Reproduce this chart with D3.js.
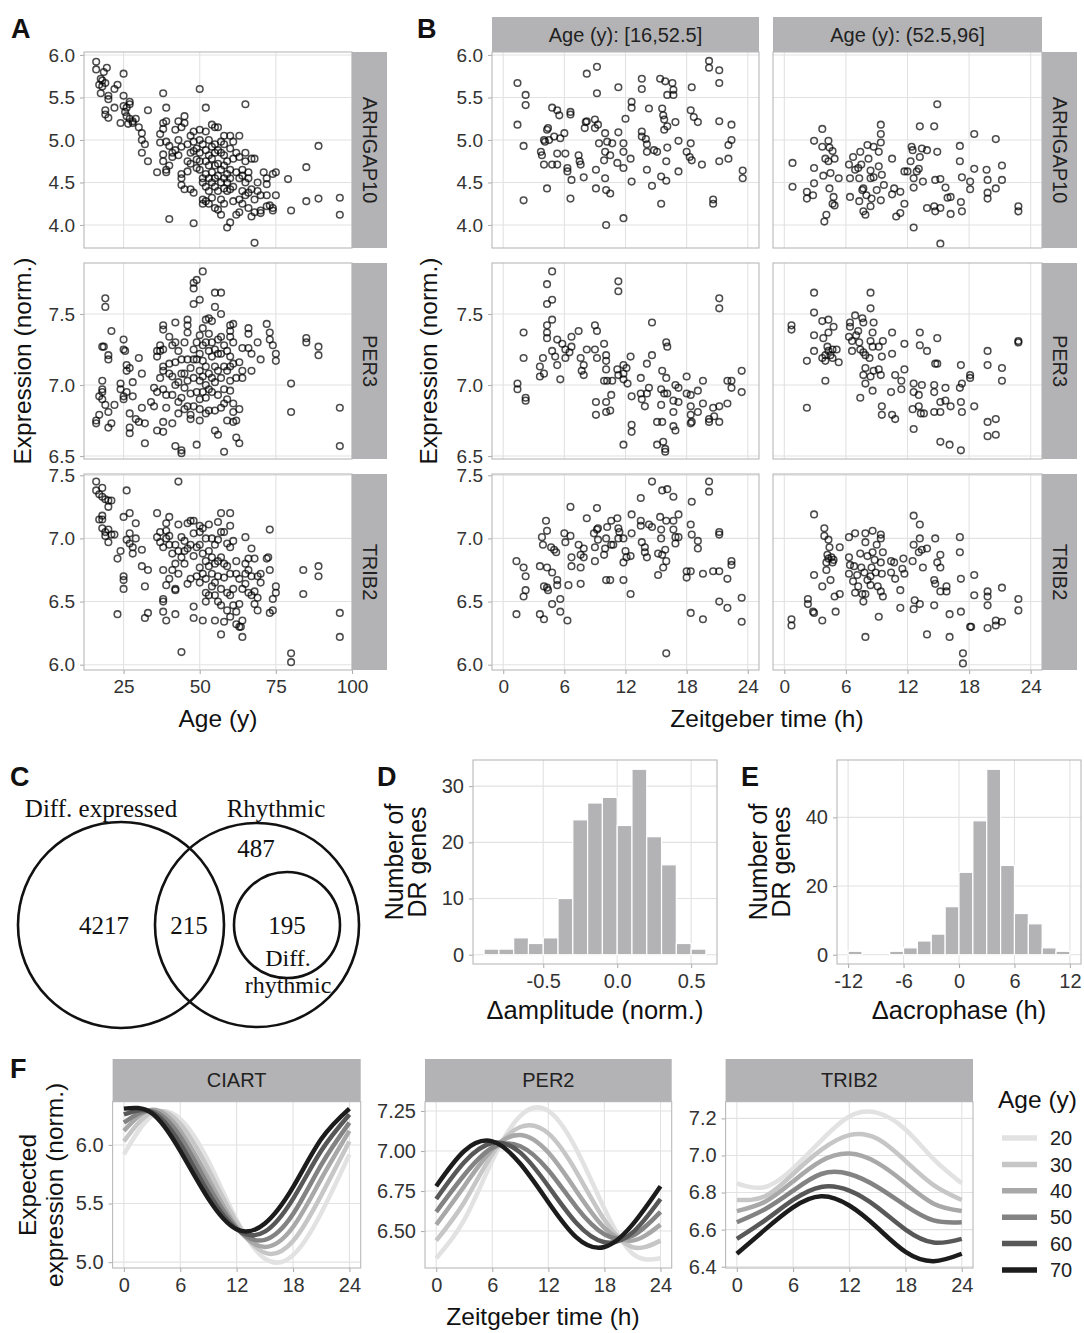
<!DOCTYPE html>
<html>
<head>
<meta charset="utf-8">
<script src="https://cdn.jsdelivr.net/npm/d3@7"></script>
<style>
  body { margin: 0; background: #fff; }
</style>
</head>
<body>
<svg id="fig" width="1084" height="1333"></svg>
<script>
// ---------- data ----------
const genesAB = ["ARHGAP10", "PER3", "TRIB2"];
const ageGroups = ["Age (y): [16,52.5]", "Age (y): (52.5,96]"];
const ageTicks = [25, 50, 75, 100];
const ztTicks = [0, 6, 12, 18, 24];
const exprTicks = [[4.0, 4.5, 5.0, 5.5, 6.0], [6.5, 7.0, 7.5], [6.0, 6.5, 7.0, 7.5]];

// panel A: [age, expression]
const ageArhgap10 = [[16,5.92],[16,5.83],[17.5,5.72],[18,5.70],[17,5.65],[18,5.63],[17.5,5.55],[19,5.67],[19.5,5.85],[18.5,5.80],[20,5.52],[20,5.48],[22,5.60],[23,5.65],[25,5.78],[25,5.52],[19,5.35],[19,5.30],[20,5.26],[22,5.38],[24,5.20],[25,5.40],[25.5,5.33],[26,5.38],[27,5.45],[27,5.42],[26,5.28],[27,5.25],[28,5.22],[28,5.20],[26.5,5.19],[29,5.25],[30,5.15],[31,5.08],[31,5.00],[32,4.95],[31,4.85],[33,5.35],[33,4.75],
[36,4.62],[37,4.97],[37,5.07],[38,5.13],[38,5.55],[38,5.20],[39,5.22],[39,5.38],[39,4.98],[38,4.83],[38,4.75],[39,4.65],[39,4.62],[40,4.93],[40,4.70],[41,4.80],[41,4.85],[42,5.12],[42,4.88],[43,5.0],[43,4.82],[40,4.07],[43,5.22],[44,5.15],[45,5.28],[45,5.20],[44,4.92],[44,4.60],[44,4.55],[44,4.47],[45,4.42],[46,4.75],[46,4.63],[46,4.95],[47,5.05],[47,4.85],[47,4.72],[47,4.42],[48,4.38],[48,4.02],[48,5.1],[48,4.98],[48,4.87],[49,4.77],[49,4.67],[49,4.9],
[50,5.60],[50,5.12],[50,5.0],[50,4.85],[50,4.75],[50,4.65],[51,4.55],[51,4.5],[51,4.3],[51,4.25],[51,4.95],[52,5.1],[52,4.88],[52,4.75],[52,4.6],[52,4.45],[52,4.28],[52,5.38],[53,5.0],[53,4.82],[53,4.7],[53,4.55],[53,4.4],[53,4.25],[54,5.18],[54,4.92],[54,4.78],[54,4.62],[54,4.5],[54,4.32],[55,5.15],[55,4.95],[55,4.85],[55,4.7],[55,4.55],[55,4.45],[55,4.2],[56,5.15],[56,4.88],[56,4.72],[56,4.58],[56,4.4],[56,4.18],[57,4.98],[57,4.85],[57,4.65],[57,4.5],[57,4.3],[57,4.12],[58,5.05],[58,4.95],[58,4.82],[58,4.7],[58,4.55],[58,4.43],[58,4.25],[59,4.75],[59,4.6],[59,4.5],[59,4.4],[59,3.97],[60,5.05],[60,4.9],[60,4.65],[60,4.55],[60,4.42],[60,4.03],[61,4.98],[61,4.78],[61,4.45],[61,4.28],[62,4.85],[62,4.62],[62,4.12],[63,5.05],[63,4.8],[63,4.55],[63,4.3],[63,4.15],[64,4.65],[64,4.58],[64,4.4],[64,4.25],[65,5.42],[65,4.85],[65,4.75],[65,4.5],[65,4.35],
[68,3.79],[66,4.62],[66,4.55],[66,4.38],[66,4.2],[67,4.78],[67,4.42],[67,4.1],[68,4.78],[68,4.3],[68,4.15],[69,4.5],[69,4.4],[70,4.35],[70,4.14],[70,4.17],[71,4.62],[72,4.55],[72,4.48],[72,4.35],[72,4.22],[73,4.23],[74,4.2],[74,4.17],[74,4.6],[75,4.62],[75,4.35],[79,4.54],[80,4.17],[85,4.68],[85,4.28],[89,4.93],[89,4.31],[96,4.32],[96,4.12]];

const agePer3 = [[16,6.75],[16,6.73],[17,6.79],[17,6.92],[18,6.9],[18,6.95],[18,6.97],[18,7.03],[18,7.27],[18.5,7.27],[19,7.61],[19,7.55],[19,6.86],[20,6.81],[20,6.7],[20,7.18],[20,7.21],[21,7.38],[21,6.73],[22,6.86],[24,7.01],[24,6.97],[25,6.92],[25,6.9],[25,7.32],[25,7.25],[25.5,7.24],[26,7.14],[26,6.95],[26,7.1],[27,6.8],[27,6.7],[27,6.66],[27,7.12],[28,7.02],[28,6.92],[29,6.76],[30,6.74],[30,7.19],[31,7.08],[31,6.84],[32,6.73],[32,6.59],[34,6.88],[35,6.98],[35,6.85],[36,7.24],[36,7.2],[36,6.95],[36,6.68],[37,7.28],[37,7.24],[37,7.05],[38,7.42],[38,7.39],[38,7.25],[38,7.13],[38,7.1],[38,6.97],[38,6.74],[38,6.67],[39,6.93],[39,6.84],[40,7.34],[40,7.15],[40,7.08],[41,7.28],[41,7.06],[41,6.93],[41,6.73],[42,7.44],[42,7.3],[42,7.16],[42,7.0],[42,6.57],[43,7.24],[43,7.02],[43,6.88],[43,6.8],[44,7.18],[44,7.08],[44,6.91],[44,6.54],[44,6.52],[45,7.3],[45,7.08],[45,6.98],[45,6.83],[46,7.46],[46,7.42],[46,7.37],[46,7.18],[46,7.03],[46,6.85],[47,7.12],[47,6.94],[47,6.79],[47,6.76],[48,7.72],[48,7.68],[48,7.57],[48,7.25],[48,7.18],[48,7.05],[48,6.85],[49,7.74],[49,7.3],[49,7.18],[49,6.95],[49,6.58],[50,7.6],[50,7.35],[50,7.22],[50,7.1],[50,7.03],[50,6.9],[50,6.83],[50,6.75],[51,7.8],[51,7.4],[51,7.28],[51,7.17],[51,7.06],[51,6.95],[52,7.46],[52,7.3],[52,7.13],[52,7.0],[52,6.91],[52,6.8],[53,7.47],[53,7.36],[53,7.24],[53,7.08],[53,6.97],[53,6.82],[54,7.45],[54,7.3],[54,7.2],[54,7.05],[54,6.95],[55,7.55],[55,7.65],[55,7.25],[55,7.13],[55,7.02],[55,6.82],[55,6.68],[56,7.32],[56,7.22],[56,7.1],[56,6.93],[56,6.65],[57,7.65],[57,7.5],[57,7.34],[57,7.22],[57,7.05],[57,6.84],[58,7.28],[58,7.13],[58,6.97],[58,6.87],[58,6.53],[59,7.24],[59,7.1],[59,6.9],[59,6.75],[60,7.42],[60,7.38],[60,7.34],[60,7.2],[60,7.13],[60,7.03],[60,6.96],[61,7.43],[61,7.3],[61,7.15],[61,6.87],[61,6.81],[61,6.74],[62,7.05],[62,6.75],[62,6.63],[63,7.16],[63,6.83],[63,6.59],[64,7.26],[64,7.1],[64,7.05],[66,7.4],[66,7.36],[66,7.26],[67,7.22],[67,7.1],[72,7.43],[73,7.37],[73,7.32],[74,7.28],[75,7.22],[75,7.17],[69,7.3],[70,7.18],[80,7.01],[80,6.81],[85,7.33],[85,7.3],[89,7.27],[89,7.21],[96,6.84],[96,6.57]];

const ageTrib2 = [[16,7.45],[16,7.38],[17,7.35],[18,7.4],[18,7.33],[19,7.31],[20,7.3],[20,7.25],[21,7.3],[17,7.15],[18,7.18],[18,7.15],[18,7.08],[19,7.05],[19,7.02],[20,7.07],[20,6.97],[21,7.03],[22,7.03],[23,6.84],[23,6.4],[24,6.9],[25,7.17],[25,6.7],[25,6.67],[25,6.6],[26,7.38],[26,6.99],[27,7.2],[27,7.04],[27,6.96],[28,6.93],[28,6.88],[29,7.12],[29,7.0],[31,6.91],[31,6.78],[32,6.62],[32,6.37],[33,6.75],[33,6.41],[36,7.2],[36,7.01],[37,7.05],[37,6.97],[38,6.93],[38,6.75],[38,6.52],[38,6.5],[38,6.42],[39,7.12],[39,7.06],[39,7.0],[39,6.63],[39,6.35],[40,7.17],[40,7.02],[40,6.95],[40,6.68],[41,6.88],[41,6.75],[42,6.95],[42,6.8],[42,6.6],[42,6.59],[42,6.4],[43,7.45],[43,7.11],[43,6.9],[43,6.72],[44,7.01],[44,6.85],[44,6.1],[45,6.98],[45,6.9],[45,6.8],[46,7.12],[46,6.92],[46,6.64],[47,7.14],[47,6.95],[47,6.68],[48,7.14],[48,7.04],[48,6.86],[48,6.46],[48,6.37],[49,6.93],[49,6.7],[50,7.1],[50,7.05],[50,6.95],[50,6.77],[50,6.65],[51,7.08],[51,6.88],[51,6.72],[51,6.35],[52,7.0],[52,6.82],[52,6.68],[52,6.57],[52,6.5],[53,7.11],[53,6.9],[53,6.78],[53,6.55],[54,7.0],[54,6.85],[54,6.72],[54,6.62],[55,6.95],[55,6.8],[55,6.65],[55,6.55],[55,6.35],[56,7.13],[56,6.99],[56,6.82],[56,6.7],[56,6.5],[57,7.2],[57,7.05],[57,6.85],[57,6.6],[57,6.47],[57,6.24],[58,7.05],[58,6.8],[58,6.69],[58,6.34],[59,6.96],[59,6.78],[59,6.57],[59,6.43],[60,7.2],[60,7.1],[60,6.93],[60,6.72],[60,6.55],[60,6.38],[61,6.98],[61,6.6],[61,6.47],[62,6.82],[62,6.72],[62,6.42],[62,6.32],[63,6.68],[63,6.48],[63,6.3],[63.5,6.3],[64,6.6],[64,6.35],[64,6.22],[65,7.01],[65,6.8],[65,6.72],[65,6.64],[66,6.84],[66,6.75],[66,6.57],[67,6.92],[67,6.7],[67,6.55],[68,6.84],[68,6.58],[68,6.48],[69,6.7],[69,6.53],[69,6.43],[70,6.72],[70,6.65],[72,6.84],[72.5,6.85],[73,7.07],[73,6.75],[73,6.41],[74,6.52],[74,6.43],[75,6.62],[75,6.57],[80,6.09],[80,6.02],[84,6.75],[84,6.56],[89,6.78],[89,6.7],[96,6.41],[96,6.22]];

// panel B: [Zeitgeber time, expression]
const ztArhgap10Young = [[1.4,5.67],[2.2,5.53],[2.2,5.41],[1.4,5.18],[2.0,4.93],[2.0,4.29],[4.3,4.43],[3.7,4.86],[3.8,4.82],[4.0,4.71],[4.0,5.0],[4.3,5.12],[4.4,5.14],[4.1,4.98],[4.5,5.0],[4.8,5.38],[5.3,5.35],[5.5,5.29],[5.0,5.04],[5.6,5.02],[6.0,5.08],[5.3,4.84],[6.1,4.84],[4.8,4.71],[5.3,4.71],[6.3,4.67],[6.3,4.63],[6.6,5.33],[6.6,5.30],[6.7,4.53],[6.6,4.31],[7.4,4.82],[7.5,4.75],[7.6,4.71],[7.9,4.56],[8.1,5.21],[8.2,5.22],[8.0,5.14],[9.0,5.24],[9.3,5.18],[9.0,5.14],[8.2,5.78],[9.2,5.86],[9.2,5.55],[9.1,4.65],[9.1,4.43],[10.0,4.55],[10.1,4.41],[10.5,4.37],[10.1,4.0],[10.0,5.08],[10.2,4.98],[9.4,4.96],[9.9,4.76],[10.0,4.86],[10.5,4.82],[10.7,4.96],[11.3,5.09],[11.3,5.62],[11.2,4.73],[11.8,4.96],[11.8,4.86],[11.8,4.67],[12.0,5.25],[12.5,4.78],[12.6,4.51],[11.8,4.08],[12.6,5.45],[12.6,5.38],[13.6,5.72],[13.6,5.6],[13.6,5.1],[13.6,5.04],[14.0,5.01],[14.1,4.95],[14.1,4.86],[14.3,5.37],[14.1,4.65],[14.8,4.88],[15.1,4.86],[14.6,4.46],[15.4,5.72],[15.9,5.69],[16.6,5.67],[16.7,5.59],[16.7,5.53],[16.1,5.53],[15.6,5.37],[15.7,5.29],[15.8,5.24],[15.8,5.12],[16.1,5.16],[16.9,5.21],[16.1,4.91],[16.0,4.75],[15.5,4.57],[16.0,4.52],[15.5,4.25],[17.2,4.63],[17.2,4.99],[18.5,5.62],[18.4,5.35],[18.7,5.27],[19.1,5.21],[18.4,4.96],[18.0,4.86],[18.3,4.80],[18.5,4.76],[19.5,4.71],[20.6,4.30],[20.6,4.25],[20.2,5.93],[20.2,5.85],[21.2,5.82],[21.2,5.67],[21.2,5.22],[22.4,5.18],[22.4,5.0],[22.1,4.94],[22.1,4.78],[21.2,4.75],[23.5,4.64],[23.5,4.55]];

const ztArhgap10Old = [[0.8,4.73],[0.8,4.45],[2.2,4.39],[2.2,4.31],[2.8,4.35],[2.9,4.67],[2.9,4.49],[3.7,5.13],[2.9,4.99],[3.7,4.92],[4.3,4.99],[4.4,4.91],[4.7,4.87],[4.0,4.78],[4.3,4.75],[4.9,4.78],[3.8,4.58],[4.5,4.61],[4.4,4.43],[4.8,4.33],[4.7,4.25],[4.9,4.23],[5.3,4.55],[4.1,4.12],[3.9,4.04],[6.4,4.33],[6.3,4.71],[6.4,4.55],[6.7,4.8],[6.9,4.65],[7.2,4.67],[7.3,4.55],[7.4,4.86],[7.5,4.71],[7.7,4.43],[7.3,4.28],[7.7,4.16],[7.9,4.12],[7.6,4.41],[8.1,4.94],[8.2,4.78],[8.4,4.64],[8.4,4.55],[8.0,4.35],[8.5,4.31],[8.4,4.22],[8.7,4.92],[8.7,4.56],[9.0,4.41],[9.4,5.18],[9.4,5.07],[9.4,4.97],[9.2,4.86],[9.2,4.69],[9.5,4.59],[9.7,4.47],[9.4,4.29],[10.5,4.78],[10.7,4.43],[10.5,4.36],[11.3,4.39],[10.9,4.1],[11.3,4.14],[11.7,4.25],[11.7,4.63],[12.0,4.63],[12.4,4.92],[12.5,4.88],[12.3,4.75],[12.6,4.55],[12.6,4.44],[12.9,4.63],[13.1,4.66],[13.2,5.16],[13.2,4.8],[13.4,4.9],[13.5,4.51],[13.9,4.88],[12.6,3.97],[14.6,5.16],[14.9,5.42],[14.9,4.86],[14.7,4.53],[15.2,4.54],[13.9,4.2],[14.6,4.22],[14.7,4.16],[15.2,4.2],[15.2,3.78],[15.7,4.44],[15.9,4.32],[16.2,4.33],[16.2,4.13],[17.1,4.93],[17.1,4.75],[17.3,4.56],[17.2,4.27],[17.3,4.16],[18.1,4.51],[18.1,4.42],[18.5,5.07],[18.5,4.66],[19.7,4.65],[19.8,4.53],[19.8,4.38],[19.8,4.31],[20.6,4.43],[20.6,5.01],[21.2,4.7],[21.2,4.53],[22.8,4.22],[22.8,4.16]];

const ztPer3Young = [[1.4,7.01],[1.4,6.97],[2.2,6.91],[2.2,6.89],[2.0,7.37],[2.0,7.19],[3.6,7.13],[3.6,7.06],[3.9,7.19],[4.0,7.08],[4.3,7.42],[4.3,7.37],[4.3,7.33],[4.3,7.57],[4.3,7.71],[4.8,7.8],[4.8,7.6],[4.8,7.46],[4.8,7.24],[5.3,7.32],[5.3,7.14],[5.1,7.2],[5.6,7.04],[5.8,7.29],[6.1,7.25],[6.1,7.19],[6.5,7.23],[6.7,7.34],[6.7,7.27],[7.4,7.38],[7.6,7.19],[7.9,7.14],[7.7,7.1],[7.9,7.07],[8.2,7.25],[9.0,7.42],[9.2,7.38],[9.0,7.25],[9.2,7.19],[9.9,7.29],[10.1,7.21],[10.1,7.17],[10.1,7.11],[9.9,7.03],[10.2,7.03],[10.7,7.03],[10.6,6.93],[10.1,6.88],[10.1,6.81],[10.5,6.82],[9.1,6.88],[9.1,6.79],[11.3,7.73],[11.3,7.66],[11.2,7.11],[11.3,7.07],[11.8,7.14],[11.8,7.08],[11.8,7.04],[12.1,7.12],[12.2,7.01],[12.5,7.2],[12.6,6.92],[12.6,6.72],[12.6,6.67],[11.8,6.58],[14.1,7.15],[14.6,7.21],[14.6,7.44],[13.5,7.05],[13.5,6.94],[13.6,6.9],[13.9,6.85],[14.3,6.98],[14.1,6.94],[15.6,7.1],[16.0,7.3],[16.1,7.27],[16.0,7.05],[15.5,6.97],[15.8,6.94],[15.5,6.86],[16.1,6.94],[15.6,6.74],[15.1,6.74],[15.1,6.58],[15.7,6.6],[15.9,6.55],[15.9,6.53],[16.7,6.81],[16.7,6.71],[16.9,6.68],[16.9,7.0],[17.2,6.98],[17.2,6.88],[16.7,6.89],[18.0,7.06],[18.0,6.94],[18.4,6.93],[18.4,6.85],[18.4,6.79],[18.5,6.74],[18.4,6.73],[19.1,6.96],[19.1,6.81],[19.6,7.03],[19.6,6.87],[20.2,6.74],[20.2,6.76],[20.6,6.84],[20.7,6.78],[21.2,6.74],[21.2,6.85],[21.2,7.61],[21.2,7.54],[22.0,7.03],[22.4,7.03],[22.4,6.98],[22.0,6.87],[23.4,7.1],[23.4,6.95]];

const ztPer3Old = [[0.7,7.42],[0.7,7.39],[2.2,7.17],[2.2,6.84],[2.9,7.65],[2.9,7.51],[2.9,7.35],[2.9,7.24],[3.7,7.45],[4.3,7.46],[3.8,7.33],[4.3,7.37],[4.8,7.41],[3.7,7.19],[4.0,7.21],[4.2,7.27],[4.3,7.24],[4.5,7.21],[4.7,7.25],[4.7,7.19],[5.1,7.25],[5.3,7.16],[4.0,7.17],[4.0,7.03],[6.4,7.44],[6.4,7.41],[6.3,7.34],[6.9,7.49],[7.0,7.35],[7.2,7.38],[6.6,7.31],[6.6,7.24],[7.3,7.3],[7.6,7.47],[7.7,7.44],[7.4,7.25],[7.7,7.23],[7.9,7.21],[8.4,7.65],[8.4,7.54],[8.7,7.44],[8.6,7.37],[8.4,7.31],[8.6,7.27],[8.3,7.19],[7.9,7.12],[7.7,7.07],[7.9,7.01],[8.4,7.06],[8.7,7.1],[9.2,7.11],[9.4,7.07],[9.2,7.27],[9.5,7.2],[9.6,7.31],[8.6,6.96],[7.4,6.91],[10.5,7.37],[10.5,7.22],[10.8,7.07],[11.4,7.03],[11.4,6.97],[11.7,7.29],[11.7,7.11],[10.4,6.95],[9.5,6.85],[9.5,6.79],[10.5,6.79],[10.8,6.76],[12.6,7.01],[12.6,6.95],[13.4,7.0],[12.5,6.83],[13.1,6.85],[13.1,6.93],[13.3,6.8],[13.6,6.8],[13.2,7.37],[13.2,7.28],[13.9,7.24],[14.9,7.33],[14.7,7.15],[14.9,7.15],[14.6,7.0],[14.6,6.95],[15.7,6.98],[15.2,6.88],[15.2,6.81],[14.6,6.81],[15.7,6.89],[16.2,6.85],[12.6,6.69],[15.2,6.6],[16.1,6.58],[17.2,7.14],[17.1,6.98],[17.3,7.01],[17.2,6.88],[17.3,6.81],[18.1,7.07],[18.1,7.05],[18.5,6.85],[17.2,6.54],[19.8,7.24],[19.8,7.14],[21.2,7.12],[21.2,7.03],[19.8,6.74],[20.6,6.76],[19.8,6.64],[20.6,6.65],[22.8,7.31],[22.8,7.3]];

const ztTrib2Young = [[1.3,6.82],[1.3,6.4],[2.0,6.77],[2.2,6.7],[2.2,6.59],[2.0,6.54],[3.6,6.78],[3.6,6.4],[4.0,6.36],[3.8,7.01],[3.9,6.95],[4.2,7.14],[4.3,7.06],[4.3,6.77],[4.0,6.62],[4.3,6.61],[4.4,6.59],[4.8,6.73],[4.7,6.93],[5.0,6.91],[5.2,6.89],[5.3,6.67],[5.3,6.63],[5.6,6.52],[4.8,6.48],[5.6,6.42],[6.0,7.04],[6.1,6.97],[6.4,6.63],[6.3,6.35],[6.6,7.02],[6.6,7.25],[6.7,6.85],[6.7,6.78],[7.4,6.95],[7.6,6.87],[7.6,6.77],[7.6,6.64],[7.9,6.92],[7.9,6.85],[8.2,7.16],[8.9,7.04],[9.0,6.93],[9.0,6.82],[9.2,7.24],[9.2,7.07],[9.3,7.08],[9.3,6.99],[9.9,6.87],[10.0,6.92],[10.1,7.0],[10.2,7.09],[10.1,6.67],[10.5,6.67],[10.6,7.14],[10.6,6.95],[10.8,6.95],[11.2,7.16],[11.3,7.08],[11.3,7.0],[11.4,7.05],[11.8,7.0],[11.8,6.67],[11.8,6.81],[12.0,6.9],[12.1,6.85],[12.5,6.86],[12.6,7.19],[12.6,7.04],[12.5,6.56],[13.5,7.32],[13.5,7.14],[13.5,7.1],[13.6,6.97],[13.9,6.93],[13.9,6.89],[14.1,6.85],[14.3,7.11],[14.6,7.45],[14.6,7.09],[15.2,6.88],[15.2,6.71],[15.4,7.17],[15.5,7.07],[15.5,7.0],[15.6,6.87],[15.7,6.77],[15.6,7.38],[16.1,7.39],[16.0,7.14],[16.0,6.82],[15.9,6.91],[16.7,7.33],[16.7,7.14],[16.7,7.07],[16.9,7.01],[17.2,7.01],[17.2,7.19],[16.9,6.96],[16.0,6.09],[18.0,6.74],[18.0,6.69],[18.4,6.74],[18.4,7.11],[18.5,7.03],[18.5,7.29],[19.1,6.98],[19.1,6.92],[18.4,6.41],[19.6,6.72],[19.6,6.36],[20.2,7.45],[20.2,7.37],[20.6,6.74],[21.2,6.74],[21.2,7.05],[21.2,7.03],[21.2,6.5],[22.0,6.68],[22.4,6.82],[22.4,6.79],[22.0,6.45],[23.4,6.53],[23.4,6.34]];

const ztTrib2Old = [[0.7,6.36],[0.7,6.31],[2.3,6.52],[2.3,6.48],[2.8,6.42],[2.9,6.41],[2.9,7.19],[2.9,6.71],[3.7,6.35],[3.7,6.62],[3.9,7.08],[3.9,7.02],[4.3,6.99],[4.4,6.93],[4.2,6.87],[4.3,6.84],[4.1,6.81],[4.1,6.75],[4.6,6.85],[4.7,6.81],[4.8,6.83],[4.5,6.67],[4.9,6.54],[5.0,6.42],[5.4,6.56],[5.4,6.93],[6.3,7.01],[6.9,7.04],[6.3,6.85],[6.4,6.79],[6.3,6.72],[6.7,6.66],[6.8,6.78],[7.1,6.71],[7.2,6.62],[6.9,6.57],[7.4,6.88],[7.5,6.77],[7.6,6.56],[7.7,6.5],[7.9,6.97],[7.9,7.04],[7.9,6.22],[8.1,6.86],[7.8,6.73],[7.9,6.56],[8.1,6.67],[8.4,6.7],[8.4,6.63],[8.5,6.77],[8.6,6.89],[8.6,7.06],[8.8,6.83],[8.9,6.73],[9.0,6.95],[9.1,6.62],[9.2,6.38],[9.4,7.03],[9.4,7.0],[9.4,6.81],[9.5,6.72],[9.6,6.89],[9.6,6.54],[9.4,6.58],[10.4,6.82],[10.4,6.73],[10.7,6.81],[10.8,6.68],[11.3,6.59],[11.3,6.45],[11.5,6.76],[11.6,6.84],[11.7,6.72],[12.6,6.95],[12.6,7.18],[12.5,6.82],[12.7,6.51],[12.6,6.44],[13.2,7.11],[13.2,7.0],[13.1,6.89],[13.2,6.48],[13.4,6.91],[13.5,6.77],[13.9,6.92],[13.9,6.24],[14.6,6.67],[14.7,7.0],[14.7,6.64],[14.6,6.47],[14.9,6.81],[15.2,6.87],[15.2,6.77],[15.2,6.58],[15.8,6.62],[15.8,6.58],[16.1,6.4],[16.1,6.22],[17.1,7.01],[17.1,6.89],[17.2,6.68],[17.2,6.42],[17.4,6.09],[17.4,6.01],[18.1,6.3],[18.2,6.3],[18.5,6.71],[18.5,6.55],[19.8,6.58],[19.8,6.54],[19.8,6.47],[19.8,6.29],[20.6,6.35],[20.6,6.31],[21.2,6.34],[21.2,6.61],[22.8,6.52],[22.8,6.43]];

// panel C
const vennSets = ["Diff. expressed", "Rhythmic"];
const vennCounts = { deOnly: 4217, overlap: 215, rhythmicOnly: 487, diffRhythmic: 195 };
const vennSubset = ["Diff.", "rhythmic"];

// panel D: bin centres and counts
const ampBinWidth = 0.1;
const ampBinCenters = [-0.85,-0.75,-0.65,-0.55,-0.45,-0.35,-0.25,-0.15,-0.05,0.05,0.15,0.25,0.35,0.45,0.55];
const ampCounts = [1,1,3,2,3,10,24,27,28,23,33,21,16,2,1];

// panel E
const phaseBinWidth = 1.5;
const phaseBinCenters = [-11.25,-9.75,-8.25,-6.75,-5.25,-3.75,-2.25,-0.75,0.75,2.25,3.75,5.25,6.75,8.25,9.75,11.25];
const phaseCounts = [1,0,0,1,2,4,6,14,24,39,54,26,12,9,2,1];

// panel F: expected expression sampled every 3 h, one row per age
const fGenes = ["CIART", "PER2", "TRIB2"];
const fAges = [20, 30, 40, 50, 60, 70];
const fZt = [0, 3, 6, 9, 12, 15, 18, 21, 24];
const ciartCurves = [
  [5.92,6.25,6.22,5.86,5.36,5.03,5.06,5.42,5.92],
  [6.03,6.28,6.18,5.79,5.34,5.08,5.18,5.57,6.03],
  [6.12,6.30,6.12,5.71,5.30,5.13,5.30,5.71,6.12],
  [6.19,6.29,6.07,5.65,5.29,5.19,5.41,5.83,6.19],
  [6.26,6.28,6.01,5.59,5.28,5.26,5.54,5.95,6.26],
  [6.31,6.27,5.95,5.54,5.28,5.33,5.64,6.05,6.31]];
const per2Curves = [
  [6.33,6.57,6.94,7.22,7.25,7.01,6.64,6.36,6.33],
  [6.44,6.68,6.98,7.15,7.11,6.87,6.57,6.40,6.44],
  [6.54,6.78,7.01,7.10,6.99,6.75,6.52,6.44,6.54],
  [6.62,6.85,7.02,7.03,6.88,6.65,6.48,6.47,6.62],
  [6.70,6.93,7.05,6.99,6.78,6.55,6.43,6.49,6.70],
  [6.78,7.00,7.06,6.92,6.68,6.46,6.40,6.54,6.78]];
const trib2Curves = [
  [6.85,6.83,6.93,7.08,7.21,7.23,7.14,6.98,6.85],
  [6.76,6.78,6.90,7.03,7.11,7.09,6.97,6.84,6.76],
  [6.70,6.75,6.86,6.97,7.01,6.96,6.85,6.74,6.70],
  [6.64,6.71,6.81,6.90,6.90,6.83,6.73,6.65,6.64],
  [6.55,6.65,6.76,6.83,6.81,6.72,6.60,6.53,6.55],
  [6.47,6.60,6.72,6.78,6.73,6.61,6.48,6.43,6.47]];
const fTicks = [[5.0, 5.5, 6.0], [6.50, 6.75, 7.00, 7.25], [6.4, 6.6, 6.8, 7.0, 7.2]];

// ---------- drawing ----------
const FONT = "'Liberation Sans', Arial, Helvetica, sans-serif";
const SERIF = "'Liberation Serif', 'Times New Roman', serif";
const gridCol = "#e2e2e2", borderCol = "#b9b9b9", tickCol = "#b0b0b0";
const stripCol = "#b3b3b5", textCol = "#222";
const ageCols = ["#e2e2e2", "#c6c6c6", "#a8a8a8", "#838383", "#585858", "#1c1c1c"];

// ggplot prints a plain hyphen for negative numbers
const hy = f => d => f(d).replace("\u2212", "-");

const svg = d3.select("#fig");
svg.append("rect").attr("width", 1084).attr("height", 1333).attr("fill", "#fff");

function styleAxis(ax, size) {
  ax.attr("font-family", FONT).attr("font-size", size || 20);
  ax.select(".domain").remove();
  ax.selectAll(".tick line").attr("stroke", tickCol).attr("stroke-width", 1.1);
  ax.selectAll(".tick text").attr("fill", "#333");
}

// grid + axes of one panel
function frame(x, y, xt, yt, yfmt, showY, showX, xfmt, size) {
  const g = svg.append("g");
  const [x0, x1] = x.range(), [y1, y0] = y.range();
  g.append("g").selectAll("line").data(xt).join("line")
    .attr("x1", d => x(d)).attr("x2", d => x(d)).attr("y1", y0).attr("y2", y1)
    .attr("stroke", gridCol).attr("stroke-width", 1.1);
  g.append("g").selectAll("line").data(yt).join("line")
    .attr("x1", x0).attr("x2", x1).attr("y1", d => y(d)).attr("y2", d => y(d))
    .attr("stroke", gridCol).attr("stroke-width", 1.1);
  if (showY) {
    const ax = g.append("g").attr("transform", `translate(${x0},0)`)
      .call(d3.axisLeft(y).tickValues(yt).tickFormat(yfmt).tickSize(4).tickPadding(5));
    styleAxis(ax, size);
  }
  if (showX) {
    const ax = g.append("g").attr("transform", `translate(0,${y1})`)
      .call(d3.axisBottom(x).tickValues(xt).tickFormat(xfmt || d3.format("d")).tickSize(4).tickPadding(6));
    styleAxis(ax, size);
  }
  return g;
}

function border(x, y) {
  const [x0, x1] = x.range(), [y1, y0] = y.range();
  svg.append("rect").attr("x", x0).attr("y", y0).attr("width", x1 - x0).attr("height", y1 - y0)
    .attr("fill", "none").attr("stroke", borderCol).attr("stroke-width", 1.1);
}

function dots(g, x, y, pts) {
  g.append("g").selectAll("circle").data(pts).join("circle")
    .attr("cx", d => x(d[0])).attr("cy", d => y(d[1])).attr("r", 3.3)
    .attr("fill", "none").attr("stroke", "#000").attr("stroke-opacity", 0.7).attr("stroke-width", 1.55);
}

function topStrip(x0, x1, y0, y1, label) {
  svg.append("rect").attr("x", x0).attr("y", y0).attr("width", x1 - x0).attr("height", y1 - y0).attr("fill", stripCol);
  svg.append("text").attr("x", (x0 + x1) / 2).attr("y", (y0 + y1) / 2).attr("dy", "0.35em")
    .attr("text-anchor", "middle").attr("font-family", FONT).attr("font-size", 20).attr("fill", textCol).text(label);
}

function rightStrip(x0, x1, y0, y1, label) {
  svg.append("rect").attr("x", x0).attr("y", y0).attr("width", x1 - x0).attr("height", y1 - y0).attr("fill", stripCol);
  svg.append("text").attr("transform", `translate(${(x0 + x1) / 2},${(y0 + y1) / 2}) rotate(90)`).attr("dy", "0.35em")
    .attr("text-anchor", "middle").attr("font-family", FONT).attr("font-size", 20).attr("fill", textCol).text(label);
}

function label(x, y, str, size, opts) {
  const o = opts || {};
  const t = svg.append("text").attr("font-family", o.font || FONT).attr("font-size", size)
    .attr("fill", o.fill || "#111").attr("text-anchor", o.anchor || "middle")
    .attr("font-weight", o.bold ? "bold" : null);
  if (o.rotate) t.attr("transform", `translate(${x},${y}) rotate(${o.rotate})`);
  else t.attr("x", x).attr("y", y);
  t.text(str);
  return t;
}

// ----- panels A and B -----
const rows = [[52, 248], [263, 459], [474, 670]];
const rowDomains = [[3.729, 6.035], [6.479, 7.859], [5.958, 7.51]];
const fmt1 = d3.format(".1f");
const xAge = d3.scaleLinear().domain([12, 100]).range([84, 352]);
const bCols = [[492, 759], [773, 1042]];
const xZt = bCols.map(c => d3.scaleLinear().domain([-1.1, 25.1]).range(c));
const ageData = [ageArhgap10, agePer3, ageTrib2];
const ztData = [[ztArhgap10Young, ztArhgap10Old], [ztPer3Young, ztPer3Old], [ztTrib2Young, ztTrib2Old]];

bCols.forEach((c, i) => topStrip(c[0], c[1], 17, 52, ageGroups[i]));

genesAB.forEach((gene, r) => {
  const y = d3.scaleLinear().domain(rowDomains[r]).range([rows[r][1], rows[r][0]]);
  const gA = frame(xAge, y, ageTicks, exprTicks[r], fmt1, true, r === 2, null, 19);
  dots(gA, xAge, y, ageData[r]);
  border(xAge, y);
  rightStrip(352, 387, rows[r][0], rows[r][1], gene);

  xZt.forEach((x, c) => {
    const gB = frame(x, y, ztTicks, exprTicks[r], fmt1, c === 0, r === 2, null, 19);
    dots(gB, x, y, ztData[r][c]);
    border(x, y);
  });
  rightStrip(1042, 1077, rows[r][0], rows[r][1], gene);
});

label(218, 727, "Age (y)", 24.5);
label(767, 727, "Zeitgeber time (h)", 24.5);
label(31, 361, "Expression (norm.)", 24.5, { rotate: -90 });
label(437, 361, "Expression (norm.)", 24.5, { rotate: -90 });
label(11, 38, "A", 27, { anchor: "start", bold: true });
label(417, 38, "B", 27, { anchor: "start", bold: true });

// ----- panel C: Venn -----
const venn = svg.append("g").attr("fill", "none").attr("stroke", "#111").attr("stroke-width", 2.6);
venn.append("circle").attr("cx", 121).attr("cy", 925).attr("r", 103);
venn.append("circle").attr("cx", 257).attr("cy", 925).attr("r", 102);
venn.append("circle").attr("cx", 287).attr("cy", 925).attr("r", 53);
const vOpt = { font: SERIF, fill: "#111" };
label(101, 817, vennSets[0], 25, vOpt);
label(276, 817, vennSets[1], 25, vOpt);
label(256, 857, vennCounts.rhythmicOnly, 25, vOpt);
label(104, 934, vennCounts.deOnly, 25, vOpt);
label(189, 934, vennCounts.overlap, 25, vOpt);
label(287, 934, vennCounts.diffRhythmic, 25, vOpt);
label(288, 966, vennSubset[0], 24, vOpt);
label(288, 993, vennSubset[1], 24, vOpt);
label(10, 786, "C", 27, { anchor: "start", bold: true });

// ----- panels D and E: histograms -----
function histogram(xRange, xDom, xt, xfmt, yDom, yt, centers, width, counts, xTitle, letter, letterX) {
  const x = d3.scaleLinear().domain(xDom).range(xRange);
  const y = d3.scaleLinear().domain(yDom).range([964, 760]);
  const g = frame(x, y, xt, yt, d3.format("d"), true, true, xfmt);
  const bins = centers.map((c, i) => ({ x0: c - width / 2, x1: c + width / 2, n: counts[i] })).filter(b => b.n > 0);
  g.append("g").selectAll("rect").data(bins).join("rect")
    .attr("x", d => x(d.x0)).attr("width", d => x(d.x1) - x(d.x0))
    .attr("y", d => y(d.n)).attr("height", d => y(0) - y(d.n))
    .attr("fill", "#b3b3b5").attr("stroke", "#fff").attr("stroke-width", 1.2);
  border(x, y);
  const cx = (xRange[0] + xRange[1]) / 2;
  label(cx, 1019, xTitle, 25.5);
  const t = label(0, 0, "", 25, { rotate: -90 }).attr("transform", `translate(${xRange[0] - 70},862) rotate(-90)`);
  t.append("tspan").attr("x", 0).attr("dy", 0).text("Number of");
  t.append("tspan").attr("x", 0).attr("dy", "0.92em").text("DR genes");
  label(letterX, 786, letter, 27, { anchor: "start", bold: true });
}

histogram([473, 717], [-0.975, 0.675], [-0.5, 0, 0.5], hy(d3.format(".1f")), [-1.65, 34.65], [0, 10, 20, 30],
  ampBinCenters, ampBinWidth, ampCounts, "\u0394amplitude (norm.)", "D", 377);
histogram([837, 1081], [-13.2, 13.2], [-12, -6, 0, 6, 12], hy(d3.format("d")), [-2.7, 56.7], [0, 20, 40],
  phaseBinCenters, phaseBinWidth, phaseCounts, "\u0394acrophase (h)", "E", 741);

// ----- panel F: expected expression curves -----
const fCols = [[112.6, 360.7], [425, 671.7], [725.6, 973]];
const fDomains = [[4.95, 6.369], [6.269, 7.308], [6.393, 7.29]];
const fFormats = [d3.format(".1f"), d3.format(".2f"), d3.format(".1f")];
const fCurves = [ciartCurves, per2Curves, trib2Curves];

fGenes.forEach((gene, k) => {
  const x = d3.scaleLinear().domain([-1.2, 25.2]).range(fCols[k]);
  const y = d3.scaleLinear().domain(fDomains[k]).range([1268, 1101.7]);
  const g = frame(x, y, ztTicks, fTicks[k], fFormats[k], true, true);
  const line = d3.line().x((d, i) => x(fZt[i])).y(d => y(d)).curve(d3.curveNatural);
  g.append("g").selectAll("path").data(fCurves[k]).join("path")
    .attr("d", line).attr("fill", "none")
    .attr("stroke", (d, i) => ageCols[i]).attr("stroke-width", 4.5);
  border(x, y);
  topStrip(fCols[k][0], fCols[k][1], 1059, 1101.7, gene);
});

label(543, 1325, "Zeitgeber time (h)", 24.5);
const fy = label(0, 0, "", 24.5, { rotate: -90 }).attr("transform", "translate(36,1185) rotate(-90)");
fy.append("tspan").attr("x", 0).attr("dy", 0).text("Expected");
fy.append("tspan").attr("x", 0).attr("dy", "1.1em").text("expression (norm.)");
label(10, 1078, "F", 27, { anchor: "start", bold: true });

// legend
label(998, 1108, "Age (y)", 24.5, { anchor: "start" });
const leg = svg.append("g").selectAll("g").data(fAges).join("g")
  .attr("transform", (d, i) => `translate(1002,${1138 + i * 26.4})`);
leg.append("line").attr("x1", 0).attr("x2", 35).attr("stroke", (d, i) => ageCols[i]).attr("stroke-width", 5.5);
leg.append("text").attr("x", 48).attr("dy", "0.36em").attr("font-family", FONT).attr("font-size", 20)
  .attr("fill", "#222").text(d => d);
</script>
</body>
</html>
